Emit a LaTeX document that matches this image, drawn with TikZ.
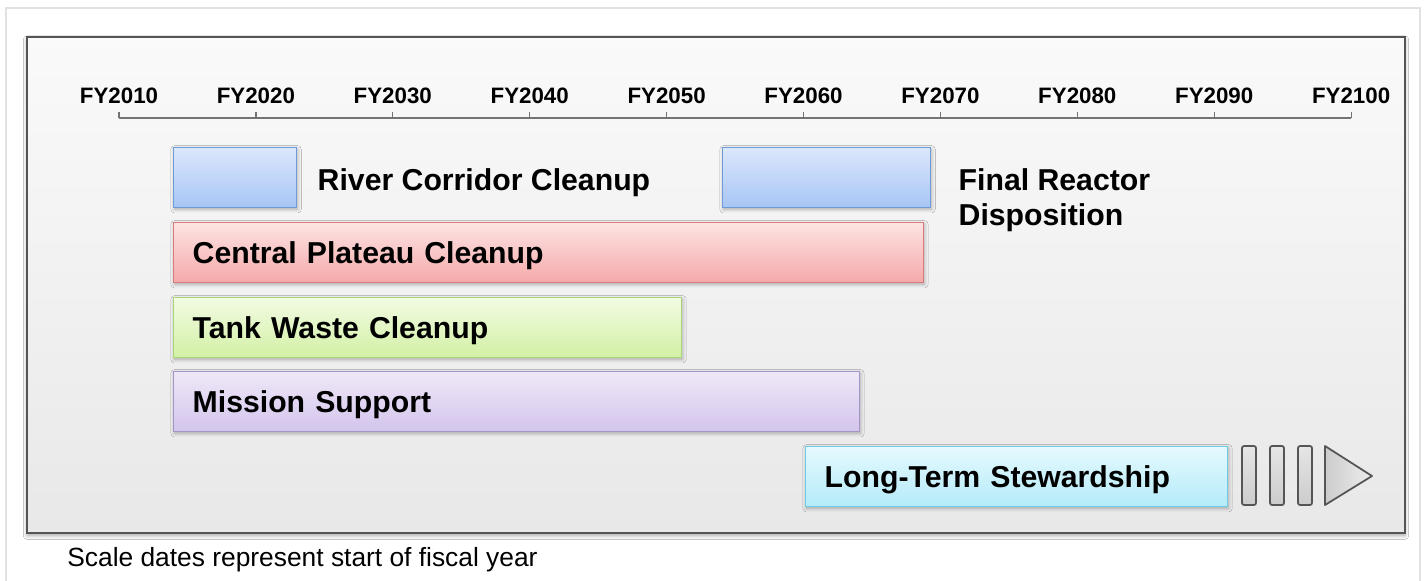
\documentclass[tikz,border=0pt]{standalone}
\usepackage{fontspec}
\setmainfont{Liberation Sans}
\usetikzlibrary{positioning,shadows.blur}
\definecolor{FrameGray}{RGB}{85,85,85}
\definecolor{PageLine}{RGB}{226,226,226}
\definecolor{BlueTop}{RGB}{219,231,252}
\definecolor{BlueBot}{RGB}{167,197,244}
\definecolor{BlueLine}{RGB}{110,154,216}
\definecolor{RedTop}{RGB}{253,227,227}
\definecolor{RedBot}{RGB}{245,169,169}
\definecolor{RedLine}{RGB}{219,122,122}
\definecolor{GreenTop}{RGB}{242,251,227}
\definecolor{GreenBot}{RGB}{210,240,164}
\definecolor{GreenLine}{RGB}{169,214,121}
\definecolor{PurpleTop}{RGB}{239,232,248}
\definecolor{PurpleBot}{RGB}{211,196,236}
\definecolor{PurpleLine}{RGB}{164,149,200}
\definecolor{CyanTop}{RGB}{229,249,254}
\definecolor{CyanBot}{RGB}{180,235,249}
\definecolor{CyanLine}{RGB}{111,203,229}
\newcommand\phasefont{\fontsize{17.2}{20}\selectfont\bfseries}
\newcommand\tickfont{\fontsize{12.7}{15}\selectfont\bfseries}
\tikzset{
  phasebar/.style={draw,line width=0.8pt,anchor=north west,minimum height=1.2cm,
    inner xsep=0.38cm,inner ysep=0pt,text depth=0pt,align=left,font=\phasefont,
    blur shadow={shadow blur steps=6,shadow xshift=0.5pt,shadow yshift=-0.9pt,shadow opacity=30}},
  bluebar/.style={phasebar,draw=BlueLine,top color=BlueTop,bottom color=BlueBot},
  redbar/.style={phasebar,draw=RedLine,top color=RedTop,bottom color=RedBot},
  greenbar/.style={phasebar,draw=GreenLine,top color=GreenTop,bottom color=GreenBot},
  purplebar/.style={phasebar,draw=PurpleLine,top color=PurpleTop,bottom color=PurpleBot},
  cyanbar/.style={phasebar,draw=CyanLine,top color=CyanTop,bottom color=CyanBot},
  sidelabel/.style={anchor=west,align=left,inner sep=0pt,font=\phasefont},
  frame/.style={draw=FrameGray,line width=1.1pt,top color=white!98!black,bottom color=black!9,
    blur shadow={shadow blur steps=6,shadow xshift=0pt,shadow yshift=-1.5pt,shadow opacity=35}},
  stopbar/.style={draw=FrameGray,line width=1pt,rounded corners=1.2pt,
    top color=black!10,bottom color=black!20},
  stoparrow/.style={draw=FrameGray,line width=1pt,line join=round,
    left color=black!20,right color=black!7},
}

\begin{document}
\begin{tikzpicture}[x=0.02cm,y=-0.02cm]
  \useasboundingbox (0,0) rectangle (1426,581);
  \fill[white] (0,0) rectangle (1426,581);
  \draw[PageLine,line width=0.8pt] (6,581) |- (1420,8) -- (1420,581);
  \path[frame] (27,37) rectangle (1405,533);
  % time axis
  \draw[black!55,line width=0.7pt] (119,118) -- (1351,118);
  \foreach \i in {0,...,9}{
    \pgfmathtruncatemacro\yr{2010+10*\i}
    \draw[black!55,line width=0.7pt] (119+136.9*\i,118) -- ++(0,-6)
      node[above=0.16cm,inner sep=0pt,text=black,font=\tickfont] (fy\i) {FY\yr};
  }
  % programme bars
  \node[bluebar,text width=1.70cm] (rc) at (173,147) {};
  \node[sidelabel,right=0.4cm of rc,yshift=-0.1cm] (rclabel) {River Corridor Cleanup};
  \node[bluebar,text width=3.40cm] (fr) at (722,147) {};
  \node[sidelabel,right=0.54cm of fr,yshift=-0.45cm] (frlabel) {Final Reactor\\Disposition};
  \node[redbar,text width=14.24cm] (cp) at (173,222) {Central Plateau Cleanup};
  \node[greenbar,text width=9.40cm] (tw) at (173,297) {Tank Waste Cleanup};
  \node[purplebar,text width=12.96cm] (ms) at (173,371) {Mission Support};
  \node[cyanbar,text width=7.68cm] (lts) at (805,446) {Long-Term Stewardship};
  % continuation marks
  \foreach \x in {1242,1270,1298}
    \path[stopbar] (\x,446) rectangle ++(14,59);
  \path[stoparrow] (1325,446) -- (1372,476) -- (1325,505) -- cycle;
  \node[anchor=west,inner sep=0pt,font=\fontsize{15}{18}\selectfont] (note) at (67,560)
    {Scale dates represent start of fiscal year};
\end{tikzpicture}
\end{document}
